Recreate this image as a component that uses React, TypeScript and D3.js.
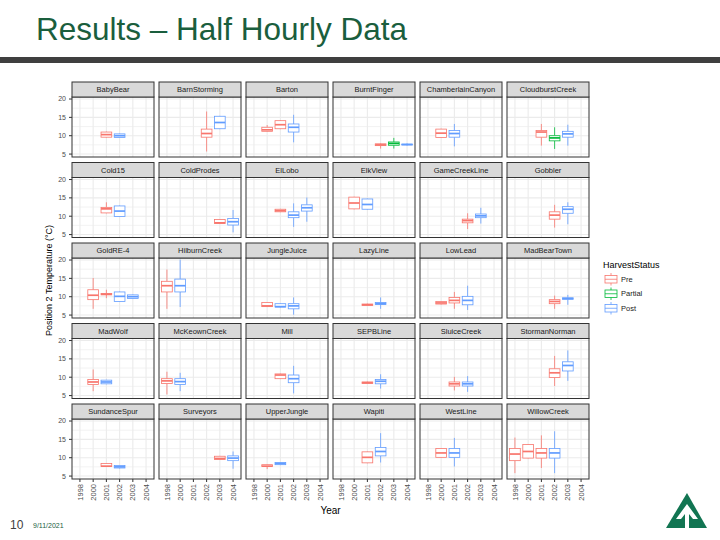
import React from "react";
import * as d3 from "d3";

// facets, in the order ggplot lays them out (6 per row)
const sites = [
  "BabyBear", "BarnStorming", "Barton", "BurntFinger", "ChamberlainCanyon", "CloudburstCreek",
  "Cold15", "ColdProdes", "ElLobo", "ElkView", "GameCreekLine", "Gobbler",
  "GoldRE-4", "HilburnCreek", "JungleJuice", "LazyLine", "LowLead", "MadBearTown",
  "MadWolf", "McKeownCreek", "Mill", "SEPBLine", "SluiceCreek", "StormanNorman",
  "SundanceSpur", "Surveyors", "UpperJungle", "Wapiti", "WestLine", "WillowCreek",
];
const years = ["1998", "2000", "2001", "2002", "2003", "2004"];
const statuses = ["Pre", "Partial", "Post"];
const statusColors = ["#F8766D", "#00BA38", "#619CFF"];
const yTicks = [5, 10, 15, 20];
const yMinorTicks = [7.5, 12.5, 17.5];

// [site, year, lower whisker, q1, median, q3, upper whisker]
type Box = [string, string, number, number, number, number, number];

const preBoxes: Box[] = [
  ["BabyBear", "2001", 9.5, 9.6, 10.3, 11.0, 11.1],
  ["BarnStorming", "2002", 5.7, 9.6, 10.6, 11.8, 16.6],
  ["Barton", "2000", 11.1, 11.2, 11.6, 12.3, 12.9],
  ["Barton", "2001", 11.8, 11.9, 13.0, 14.1, 14.2],
  ["BurntFinger", "2002", 6.5, 7.3, 7.5, 7.8, 8.0],
  ["ChamberlainCanyon", "2000", 9.4, 9.5, 10.7, 11.8, 11.9],
  ["CloudburstCreek", "2001", 7.3, 9.6, 11.0, 11.4, 13.2],
  ["Cold15", "2001", 10.8, 10.9, 12.0, 12.4, 13.8],
  ["ColdProdes", "2003", 7.9, 8.0, 8.2, 9.1, 9.2],
  ["ElLobo", "2001", 11.1, 11.2, 11.5, 11.9, 12.0],
  ["ElkView", "2000", 11.9, 12.0, 13.6, 15.2, 15.3],
  ["GameCreekLine", "2002", 6.5, 8.2, 8.8, 9.2, 10.8],
  ["Gobbler", "2002", 6.9, 9.2, 10.3, 11.2, 13.1],
  ["GoldRE-4", "2000", 6.7, 9.2, 10.4, 11.9, 15.1],
  ["GoldRE-4", "2001", 9.6, 10.5, 10.7, 10.9, 11.9],
  ["HilburnCreek", "1998", 6.7, 11.3, 13.0, 14.2, 17.4],
  ["JungleJuice", "2000", 7.2, 7.3, 7.5, 8.4, 8.5],
  ["LazyLine", "2001", 7.5, 7.6, 7.8, 8.0, 8.1],
  ["LowLead", "2000", 7.9, 8.0, 8.3, 8.7, 8.8],
  ["LowLead", "2001", 6.7, 8.3, 9.0, 9.8, 11.3],
  ["MadBearTown", "2002", 6.7, 8.1, 8.7, 9.2, 10.3],
  ["MadWolf", "2000", 6.2, 8.0, 8.7, 9.4, 12.1],
  ["McKeownCreek", "1998", 5.3, 8.3, 9.0, 9.6, 11.5],
  ["Mill", "2001", 9.5, 9.6, 10.6, 10.9, 11.0],
  ["SEPBLine", "2001", 8.2, 8.3, 8.5, 8.7, 8.8],
  ["SluiceCreek", "2001", 6.4, 7.6, 8.2, 8.7, 10.1],
  ["StormanNorman", "2002", 7.6, 9.9, 11.2, 12.3, 15.8],
  ["SundanceSpur", "2001", 7.5, 7.6, 7.7, 8.4, 8.5],
  ["Surveyors", "2003", 9.4, 9.5, 9.8, 10.4, 10.5],
  ["UpperJungle", "2000", 6.9, 7.6, 7.7, 8.1, 8.2],
  ["Wapiti", "2001", 8.5, 8.6, 10.1, 11.6, 11.7],
  ["WestLine", "2000", 10.0, 10.1, 11.3, 12.5, 12.6],
  ["WillowCreek", "1998", 5.8, 9.2, 11.0, 12.5, 15.5],
  ["WillowCreek", "2000", 9.8, 9.9, 11.7, 13.6, 13.7],
  ["WillowCreek", "2001", 7.2, 9.9, 11.3, 12.5, 16.1],
];

const partialBoxes: Box[] = [
  ["BurntFinger", "2003", 6.5, 7.4, 7.9, 8.3, 9.4],
  ["CloudburstCreek", "2002", 6.4, 8.6, 9.4, 10.0, 12.3],
];

const postBoxes: Box[] = [
  ["BabyBear", "2002", 9.4, 9.5, 10.0, 10.5, 10.6],
  ["BarnStorming", "2003", 11.8, 11.9, 13.6, 15.3, 15.4],
  ["Barton", "2002", 8.2, 11.0, 12.3, 13.2, 15.7],
  ["BurntFinger", "2004", 7.3, 7.5, 7.6, 7.7, 7.9],
  ["ChamberlainCanyon", "2001", 7.1, 9.6, 10.6, 11.4, 13.2],
  ["CloudburstCreek", "2003", 7.3, 9.6, 10.5, 11.2, 13.0],
  ["Cold15", "2002", 9.8, 9.9, 11.4, 12.8, 12.9],
  ["ColdProdes", "2004", 5.6, 7.6, 8.5, 9.4, 11.7],
  ["ElLobo", "2002", 7.1, 9.6, 10.3, 11.2, 13.5],
  ["ElLobo", "2003", 8.5, 11.4, 12.3, 13.1, 15.1],
  ["ElkView", "2001", 11.8, 11.9, 13.2, 14.7, 14.8],
  ["GameCreekLine", "2003", 8.0, 9.6, 10.1, 10.6, 12.3],
  ["Gobbler", "2003", 7.8, 10.8, 11.9, 12.6, 13.8],
  ["GoldRE-4", "2002", 8.6, 8.7, 10.1, 11.3, 11.4],
  ["GoldRE-4", "2003", 9.4, 9.5, 10.0, 10.5, 10.6],
  ["HilburnCreek", "2000", 7.2, 11.3, 13.0, 14.8, 20.1],
  ["JungleJuice", "2001", 7.1, 7.2, 7.3, 8.1, 8.2],
  ["JungleJuice", "2002", 5.1, 6.7, 7.5, 8.1, 9.8],
  ["LazyLine", "2002", 6.7, 7.9, 8.1, 8.4, 9.8],
  ["LowLead", "2002", 6.4, 7.8, 9.0, 10.1, 13.0],
  ["MadBearTown", "2003", 7.8, 9.3, 9.5, 9.7, 10.5],
  ["MadWolf", "2001", 8.1, 8.2, 8.7, 9.2, 9.3],
  ["McKeownCreek", "2000", 6.2, 8.0, 8.8, 9.6, 11.2],
  ["Mill", "2002", 5.6, 8.5, 9.6, 10.6, 13.1],
  ["SEPBLine", "2002", 6.9, 8.2, 8.9, 9.4, 10.8],
  ["SluiceCreek", "2002", 6.0, 7.6, 8.2, 8.7, 10.3],
  ["StormanNorman", "2003", 9.0, 11.7, 13.2, 14.2, 17.3],
  ["SundanceSpur", "2002", 7.1, 7.2, 7.5, 7.9, 8.0],
  ["Surveyors", "2004", 7.0, 9.2, 9.9, 10.5, 11.7],
  ["UpperJungle", "2001", 8.0, 8.1, 8.4, 8.7, 8.8],
  ["Wapiti", "2002", 8.7, 10.5, 11.7, 12.8, 16.7],
  ["WestLine", "2001", 7.6, 10.1, 11.3, 12.5, 15.4],
  ["WillowCreek", "2002", 5.8, 9.9, 11.3, 12.5, 17.2],
];

const boxesByStatus = [preBoxes, partialBoxes, postBoxes];

// layout
const width = 720;
const height = 540;
const nCols = 6;
const colX0 = 72;
const colStep = 87;
const panelW = 82;
const rowY0 = 82;
const rowStep = 80.5;
const stripH = 15;
const panelH = 60;
const nRows = Math.ceil(sites.length / nCols);
const font = "'Liberation Sans', Arial, Helvetica, sans-serif";
const green = "#1a5e3d";
const border = "#333333";
const grid = "#EBEBEB";

const x = d3.scalePoint<string>().domain(years).range([0, panelW]).padding(0.6);
const y = d3.scaleLinear().domain([4.2, 20.55]).range([panelH, 0]);
const boxW = x.step() * 0.81;

const panelPos = (i: number) => ({
  px: colX0 + (i % nCols) * colStep,
  py: rowY0 + Math.floor(i / nCols) * rowStep + stripH,
});

const BoxMark: React.FC<{ b: Box; color: string }> = ({ b, color }) => {
  const [, year, lo, q1, med, q3, hi] = b;
  const cx = x(year)!;
  return (
    <g stroke={color} fill="none" strokeWidth={0.8}>
      <line x1={cx} x2={cx} y1={y(hi)} y2={y(q3)} />
      <line x1={cx} x2={cx} y1={y(q1)} y2={y(lo)} />
      <rect x={cx - boxW / 2} y={y(q3)} width={boxW} height={Math.max(y(q1) - y(q3), 0.5)} fill="#fff" />
      <line x1={cx - boxW / 2} x2={cx + boxW / 2} y1={y(med)} y2={y(med)} strokeWidth={1.7} />
    </g>
  );
};

export default function App() {
  const bottomY = rowY0 + (nRows - 1) * rowStep + stripH + panelH;
  const legendX = 604;
  const legendY = 272;
  const keyH = 14.5;

  return (
    <svg
      width={width}
      height={height}
      style={{ position: "absolute", left: 0, top: 0, background: "#fff" }}
      fontFamily={font}
    >
      {/* slide header */}
      <text x={36} y={40} fontSize={31.5} fill={green}>
        Results – Half Hourly Data
      </text>
      <rect x={0} y={57} width={width} height={6} fill="#3f3f3f" />

      {/* facets */}
      {sites.map((site, i) => {
        const { px, py } = panelPos(i);
        return (
          <g key={site} transform={`translate(${px},${py})`}>
            <rect x={0} y={0} width={panelW} height={panelH} fill="#fff" />
            {yMinorTicks.map((t) => (
              <line key={t} x1={0} x2={panelW} y1={y(t)} y2={y(t)} stroke={grid} strokeWidth={0.6} />
            ))}
            {yTicks.map((t) => (
              <line key={t} x1={0} x2={panelW} y1={y(t)} y2={y(t)} stroke={grid} strokeWidth={1.1} />
            ))}
            {years.map((yr) => (
              <line key={yr} x1={x(yr)} x2={x(yr)} y1={0} y2={panelH} stroke={grid} strokeWidth={1.1} />
            ))}
            {boxesByStatus.map((list, s) =>
              list
                .filter((b) => b[0] === site)
                .map((b) => <BoxMark key={`${s}-${b[1]}`} b={b} color={statusColors[s]} />)
            )}
            <rect x={0} y={0} width={panelW} height={panelH} fill="none" stroke={border} strokeWidth={1} />
            <rect x={0} y={-stripH} width={panelW} height={stripH} fill="#D9D9D9" stroke={border} strokeWidth={1} />
            <text x={panelW / 2} y={-stripH / 2} dy="0.35em" textAnchor="middle" fontSize={7.5} fill="#1A1A1A">
              {site}
            </text>
          </g>
        );
      })}

      {/* y axis on the first column */}
      {d3.range(nRows).map((r) => {
        const py = rowY0 + r * rowStep + stripH;
        return (
          <g key={r} transform={`translate(${colX0},${py})`}>
            {yTicks.map((t) => (
              <g key={t} transform={`translate(0,${y(t)})`}>
                <line x1={-3} x2={0} stroke={border} strokeWidth={1} />
                <text x={-6} dy="0.35em" textAnchor="end" fontSize={7} fill="#4D4D4D">
                  {t}
                </text>
              </g>
            ))}
          </g>
        );
      })}

      {/* x axis on the bottom row */}
      {d3.range(nCols).map((c) => (
        <g key={c} transform={`translate(${colX0 + c * colStep},${bottomY})`}>
          {years.map((yr) => (
            <g key={yr} transform={`translate(${x(yr)},0)`}>
              <line y1={0} y2={3} stroke={border} strokeWidth={1} />
              <text
                transform="translate(0,5) rotate(-90)"
                dy="0.35em"
                textAnchor="end"
                fontSize={7.5}
                fill="#4D4D4D"
              >
                {yr}
              </text>
            </g>
          ))}
        </g>
      ))}

      {/* axis titles */}
      <text x={colX0 + ((nCols - 1) * colStep + panelW) / 2} y={514} textAnchor="middle" fontSize={10}>
        Year
      </text>
      <text
        transform={`translate(52,${(rowY0 + bottomY) / 2}) rotate(-90)`}
        textAnchor="middle"
        fontSize={9}
      >
        Position 2 Temperature (°C)
      </text>

      {/* legend */}
      <text x={603} y={268} fontSize={9}>
        HarvestStatus
      </text>
      {statuses.map((s, i) => {
        const ky = legendY + i * keyH;
        const cx = legendX + 7;
        return (
          <g key={s} stroke={statusColors[i]} fill="none" strokeWidth={0.8}>
            <line x1={cx} x2={cx} y1={ky + 1} y2={ky + keyH - 1} />
            <rect x={legendX + 1} y={ky + 3.5} width={12} height={keyH - 7} fill="#fff" />
            <line x1={legendX + 1} x2={legendX + 13} y1={ky + keyH / 2} y2={ky + keyH / 2} />
            <text x={legendX + 17} y={ky + keyH / 2} dy="0.35em" fontSize={7.5} fill="#1A1A1A" stroke="none">
              {s}
            </text>
          </g>
        );
      })}

      {/* footer */}
      <text x={10} y={529} fontSize={12} fill="#404040">
        10
      </text>
      <text x={33} y={528} fontSize={7} fill={green}>
        9/11/2021
      </text>
      <polygon points="687,493 666,528 707,528" fill="#127552" />
      <polygon
        points="687,504 676,519 681,519 685,514 685,528 689,528 689,514 693,519 698,519"
        fill="#fff"
      />
    </svg>
  );
}
